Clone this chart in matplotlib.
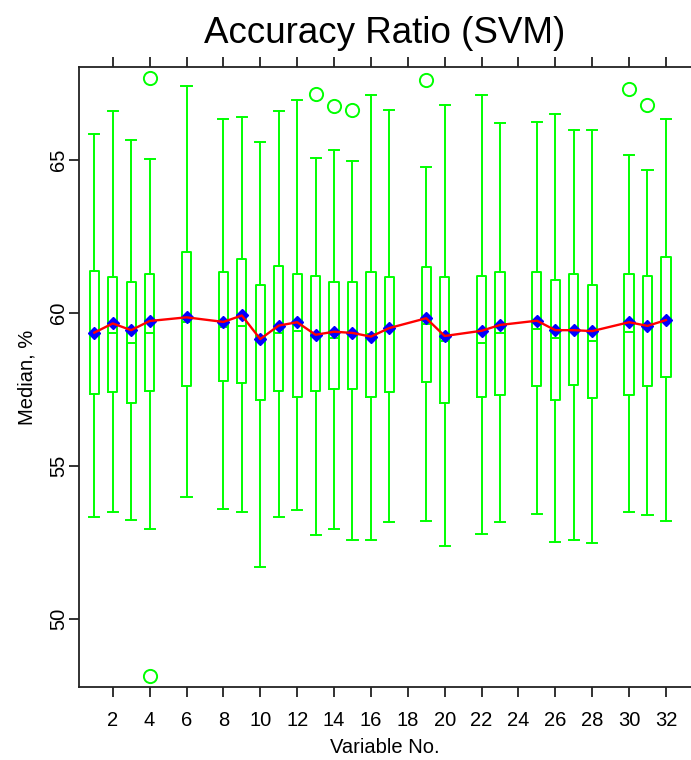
import matplotlib
matplotlib.use("Agg")
import matplotlib.pyplot as plt

plt.rcParams['font.family'] = ['Liberation Sans', 'DejaVu Sans']

positions = [1, 2, 3, 4, 6, 8, 9, 10, 11, 12, 13, 14, 15, 16, 17, 19, 20, 22, 23, 25, 26, 27, 28, 30, 31, 32]
whisker_high = [65.85, 66.61, 65.64, 65.03, 67.43, 66.35, 66.39, 65.59, 66.61, 66.96, 65.08, 65.34, 64.98,
                67.11, 66.64, 64.78, 66.81, 67.11, 66.20, 66.25, 66.51, 65.99, 65.99, 65.17, 64.67, 66.35]
q3 = [61.38, 61.17, 61.02, 61.27, 61.98, 61.33, 61.78, 60.92, 61.53, 61.27, 61.22, 61.02, 61.02,
      61.33, 61.17, 61.51, 61.17, 61.21, 61.33, 61.33, 61.07, 61.27, 60.92, 61.27, 61.22, 61.83]
q1 = [57.35, 57.41, 57.05, 57.45, 57.61, 57.77, 57.71, 57.16, 57.46, 57.26, 57.46, 57.51, 57.51,
      57.25, 57.41, 57.76, 57.06, 57.26, 57.31, 57.61, 57.16, 57.66, 57.21, 57.31, 57.61, 57.92]
medians = [59.28, 59.34, 59.03, 59.34, 59.70, 59.55, 59.58, 59.10, 59.34, 59.40, 59.30, 59.18, 59.25,
           59.30, 59.44, 59.64, 59.08, 59.02, 59.34, 59.49, 59.18, 59.43, 59.10, 59.39, 59.47, 59.74]
means = [59.36, 59.66, 59.44, 59.74, 59.86, 59.71, 59.92, 59.15, 59.59, 59.70, 59.29, 59.39, 59.35,
         59.23, 59.51, 59.83, 59.25, 59.42, 59.61, 59.75, 59.44, 59.44, 59.41, 59.70, 59.58, 59.77]
whisker_low = [53.34, 53.50, 53.25, 52.94, 54.00, 53.59, 53.50, 51.71, 53.34, 53.55, 52.74, 52.94, 52.58,
               52.58, 53.16, 53.20, 52.39, 52.78, 53.16, 53.44, 52.53, 52.58, 52.48, 53.51, 53.40, 53.20]
outliers = {4: [67.67, 48.15], 13: [67.17], 14: [66.76], 15: [66.64], 19: [67.61], 30: [67.32], 31: [66.81]}

xticks = list(range(2, 33, 2))
yticks = [50, 55, 60, 65]

fig = plt.figure(figsize=(6.91, 7.60), dpi=100)
ax = fig.add_axes([79 / 691, 73 / 760, 1 - 79 / 691, (687 - 67) / 760])

green = '#00ff00'
stats = []
for i, p in enumerate(positions):
    stats.append(dict(med=medians[i], q1=q1[i], q3=q3[i], whislo=whisker_low[i],
                      whishi=whisker_high[i], fliers=outliers.get(p, [])))

ax.bxp(stats, positions=positions, widths=0.5, capwidths=0.55, showfliers=True,
       boxprops=dict(color=green, linewidth=1.4),
       whiskerprops=dict(color=green, linewidth=1.4),
       capprops=dict(color=green, linewidth=1.4),
       medianprops=dict(color=green, linewidth=1.4),
       flierprops=dict(marker='o', markerfacecolor='none', markeredgecolor=green,
                       markersize=9.5, markeredgewidth=1.4))

ax.plot(positions, means, linestyle='none', marker='D', color='#0000ff', markersize=6, zorder=3)
ax.plot(positions, means, color='#ff0000', linewidth=1.7, zorder=4)

ax.set_xlim(0.17, 33.36)
ax.set_ylim(47.78, 68.04)
ax.set_xticks(xticks)
ax.set_xticklabels([str(t) for t in xticks])
ax.set_yticks(yticks)
ax.set_yticklabels([str(t) for t in yticks], rotation=90, va='center')

ax.spines['right'].set_visible(False)
for s in ['left', 'bottom', 'top']:
    ax.spines[s].set_linewidth(1.3)
    ax.spines[s].set_color('#222222')

ax.tick_params(axis='x', which='both', top=True, labeltop=False, direction='out', length=7,
               width=1.3, labelsize=14.5, pad=10, colors='#222222', labelcolor='black')
ax.tick_params(axis='y', direction='out', length=7, width=1.3, labelsize=14.5, pad=1,
               colors='#222222', labelcolor='black')

ax.set_xlabel('Variable No.', fontsize=14.5, labelpad=6)
ax.set_ylabel('Median, %', fontsize=14.5, labelpad=9)
ax.set_title('Accuracy Ratio (SVM)', fontsize=26.5, pad=17)

fig.savefig('out.png', dpi=100)
